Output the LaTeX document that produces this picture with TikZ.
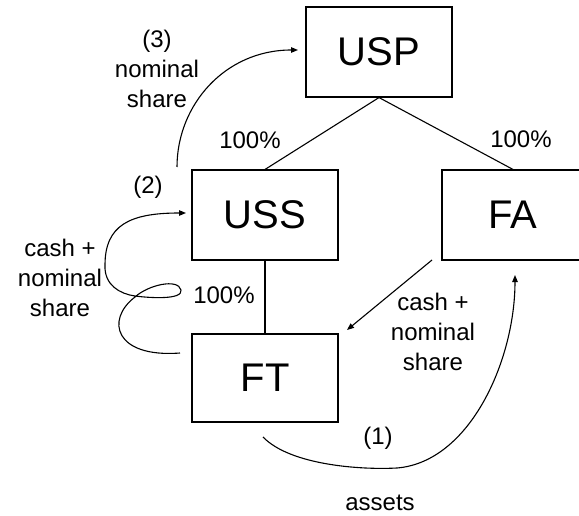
\documentclass[tikz,border=0pt]{standalone}
\usepackage{fontspec}
\setmainfont{Liberation Sans}
\usetikzlibrary{arrows.meta,calc}
\begin{document}
\begin{tikzpicture}[x=1pt,y=-1pt,
  entity/.style={draw,line width=1.1pt,minimum width=146pt,minimum height=90pt,inner sep=0pt,font=\fontsize{40}{44}\selectfont},
  lbl/.style={align=center,inner sep=0pt,font=\fontsize{24}{30}\selectfont},
  link/.style={line width=1.1pt},
  flow/.style={line width=1.1pt,-{Triangle[length=7pt,width=5.5pt]}}]
\useasboundingbox (0,0) rectangle (579,516);

% entities
\node[entity] (USP) at (379,52) {USP};
\node[entity] (USS) at (265,215) {USS};
\node[entity,minimum width=142pt] (FA) at (513,215) {FA};
\node[entity,minimum height=88pt] (FT) at (265,378) {FT};

% ownership links
\draw[link] (USP.south) -- (USS.north);
\draw[link] (USP.south) -- (FA.north);
\draw[link] (USS.south) -- (FT.north);

\node[lbl] (p1) at (250,140) {100\%};
\node[lbl] (p2) at (521,139) {100\%};
\node[lbl] (p3) at (224,295) {100\%};

% anchor points for the flows
\coordinate (s3) at (177,167);
\coordinate (e3) at (298,50);
\coordinate (s2) at (180,353);
\coordinate (e2) at (186,213);
\coordinate (s1) at (263,437);
\coordinate (e1) at (515,275);
\coordinate (sA) at (432,260);
\coordinate (eA) at (347,330);

% (3) nominal share to USP
\draw[flow] (s3) .. controls (177,105) and (225,50) .. (e3);
\node[lbl] (t3) at (157,69) {(3)\\nominal\\share};

% (2) cash + nominal share, FT to USS
\draw[flow] (s2) .. controls (115,358) and (105,320) .. (135,297)
  .. controls (148,285) and (178,278) .. (181,290)
  .. controls (183,300) and (150,298) .. (135,296)
  .. controls (120,294) and (104,285) .. (105,265)
  .. controls (105,225) and (130,213) .. (e2);
\node[lbl] (t2) at (148,187) {(2)};
\node[lbl] (t2b) at (60,278) {cash +\\nominal\\share};

% cash + nominal share, FA to FT
\draw[flow] (sA) -- (eA);
\node[lbl] (tA) at (433,332) {cash +\\nominal\\share};

% (1) assets, FT to FA
\draw[flow] (s1) .. controls (290,465) and (360,470) .. (397,468)
  .. controls (470,462) and (515,360) .. (e1);
\node[lbl] (t1) at (378,438) {(1)};
\node[lbl] (t1b) at (380,503) {assets};
\end{tikzpicture}
\end{document}
